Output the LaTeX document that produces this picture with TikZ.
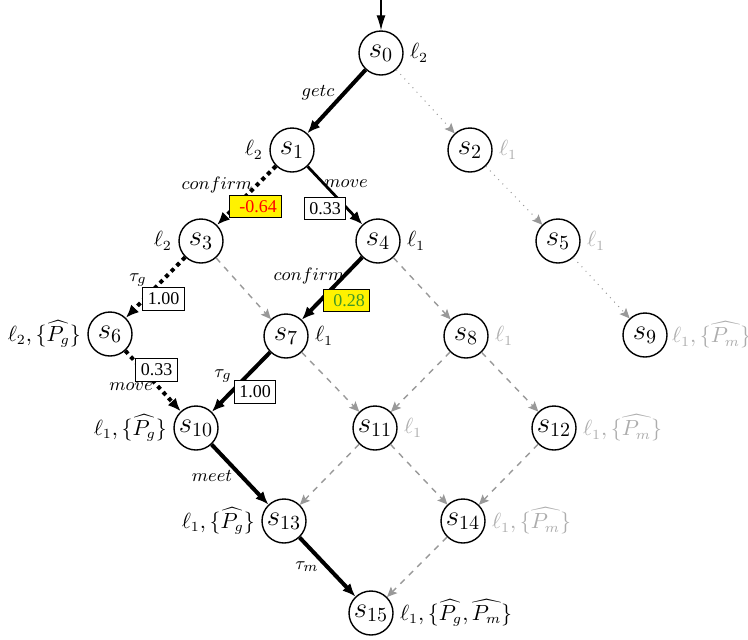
\documentclass[tikz,border=0pt]{standalone}
\usepackage{fontspec}
\newfontfamily\tnr{Liberation Serif}
\usetikzlibrary{arrows.meta}
\definecolor{edgegray}{gray}{0.6}
\definecolor{lblgray}{gray}{0.68}
\definecolor{okgreen}{rgb}{0.25,0.6,0.15}
\begin{document}
\begin{tikzpicture}[x=0.5pt,y=-0.5pt,
  state/.style={circle,draw,line width=0.7pt,minimum size=22pt,inner sep=0pt,font=\Large},
  lbl/.style={font=\fontsize{10.6}{12.5}\selectfont,inner sep=3pt},
  glbl/.style={lbl,text=lblgray},
  elbl/.style={font=\fontsize{9.5}{11}\selectfont,inner sep=0pt},
  pbox/.style={draw,line width=0.5pt,fill=white,inner sep=2.5pt,font=\tnr\fontsize{9}{10}\selectfont},
  ybox/.style={pbox,fill=yellow},
  btip/.style={-{Latex[length=6.5pt,width=5.5pt]}},
  gtip/.style={-{Stealth[length=5pt,width=4.5pt,inset=1pt]}},
  tk/.style={draw,line width=2pt,btip},
  md/.style={draw,line width=1.4pt,btip},
  dt/.style={draw,line width=2pt,dash pattern=on 2pt off 2pt,btip},
  gd/.style={draw=edgegray,line width=0.7pt,dash pattern=on 3pt off 3pt,gtip},
  gdot/.style={draw=edgegray,line width=0.5pt,dash pattern=on 0.5pt off 2.5pt,gtip}
]
\useasboundingbox (0,0) rectangle (748,639);

% states
\node[state,label={[lbl]right:$\ell_2$}] (s0) at (381,53) {$s_0$};
\node[state,label={[lbl]left:$\ell_2$}] (s1) at (292,150) {$s_1$};
\node[state,label={[glbl]right:$\ell_1$}] (s2) at (470,150) {$s_2$};
\node[state,label={[lbl]left:$\ell_2$}] (s3) at (201,241) {$s_3$};
\node[state,label={[lbl]right:$\ell_1$}] (s4) at (378,241) {$s_4$};
\node[state,label={[glbl]right:$\ell_1$}] (s5) at (558,241) {$s_5$};
\node[state,label={[lbl]left:$\ell_2,\{\widehat{P_g}\}$}] (s6) at (110,334) {$s_6$};
\node[state,label={[lbl]right:$\ell_1$}] (s7) at (286,336) {$s_7$};
\node[state,label={[glbl]right:$\ell_1$}] (s8) at (466,336) {$s_8$};
\node[state,label={[glbl,inner sep=2pt]right:$\ell_1,\{\widehat{P_m}\}$}] (s9) at (645,335) {$s_9$};
\node[state,label={[lbl]left:$\ell_1,\{\widehat{P_g}\}$}] (s10) at (196,428) {$s_{10}$};
\node[state,label={[glbl]right:$\ell_1$}] (s11) at (375,428) {$s_{11}$};
\node[state,label={[glbl]right:$\ell_1,\{\widehat{P_m}\}$}] (s12) at (554,428) {$s_{12}$};
\node[state,label={[lbl]left:$\ell_1,\{\widehat{P_g}\}$}] (s13) at (284,521) {$s_{13}$};
\node[state,label={[glbl]right:$\ell_1,\{\widehat{P_m}\}$}] (s14) at (463,521) {$s_{14}$};
\node[state,label={[lbl]right:$\ell_1,\{\widehat{P_g},\widehat{P_m}\}$}] (s15) at (371,613) {$s_{15}$};

% start
\coordinate (start) at (381,0);
\draw[line width=0.6pt,-{Latex[length=7.5pt,width=4.5pt]}] (start) -- (s0);

% gray edges
\path[gdot] (s0) -- (s2);
\path[gdot] (s2) -- (s5);
\path[gdot] (s5) -- (s9);
\path[gd] (s3) -- (s7);
\path[gd] (s4) -- (s8);
\path[gd] (s7) -- (s11);
\path[gd] (s8) -- (s11);
\path[gd] (s8) -- (s12);
\path[gd] (s11) -- (s13);
\path[gd] (s11) -- (s14);
\path[gd] (s12) -- (s14);
\path[gd] (s14) -- (s15);

% black edges
\path[tk] (s0) -- (s1);
\path[dt] (s1) -- (s3);
\path[md] (s1) -- (s4);
\path[dt] (s3) -- (s6);
\path[tk] (s4) -- (s7);
\path[dt] (s6) -- (s10);
\path[tk] (s7) -- (s10);
\path[tk] (s10) -- (s13);
\path[tk] (s13) -- (s15);

% edge labels
\node[elbl] (lgetc) at (318,93) {$getc$};
\node[elbl] (lconf1) at (217,185) {$confirm$};
\node[elbl] (lmove1) at (346,184) {$move$};
\node[elbl] (ltau1) at (138,280) {$\tau_g$};
\node[elbl] (lconf2) at (309,276) {$confirm$};
\node[elbl] (lmove2) at (131,387) {$move$};
\node[elbl] (ltau2) at (223,376) {$\tau_g$};
\node[elbl] (lmeet) at (212,476) {$meet$};
\node[elbl] (ltaum) at (307,567) {$\tau_m$};

% probability boxes
\node[ybox,text=red] (b1) at (255.5,206.5) {\hspace{2.5pt}-0.64};
\node[pbox] (b2) at (325,208.5) {0.33};
\node[pbox] (b3) at (163.5,299) {1.00};
\node[ybox,text=okgreen] (b4) at (346.5,300.5) {\hspace{2.5pt}0.28};
\node[pbox] (b5) at (156.5,370) {0.33};
\node[pbox] (b6) at (255,392) {1.00};
\end{tikzpicture}
\end{document}
